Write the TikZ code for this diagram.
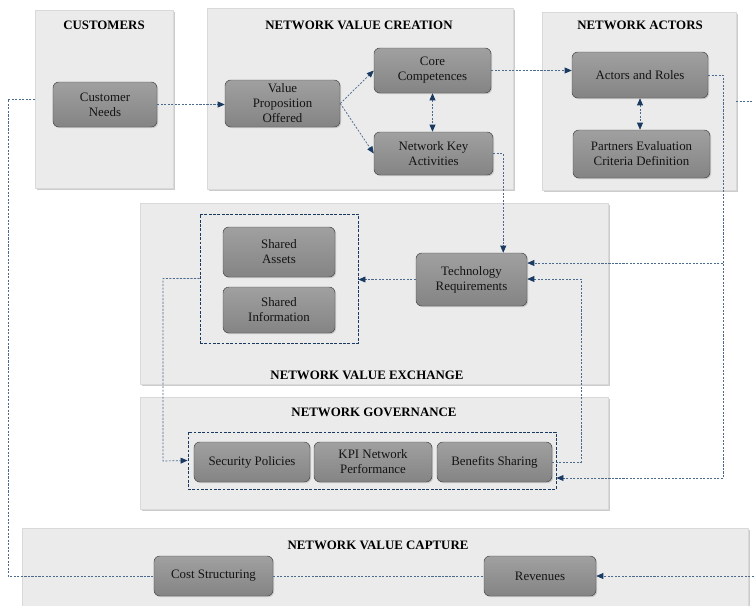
\documentclass[tikz,border=0pt]{standalone}
\usepackage{fontspec}
\setmainfont{Liberation Serif}
\usetikzlibrary{arrows.meta,fit,shadows}
\definecolor{panelgray}{HTML}{EBEBEB}
\definecolor{boxtop}{HTML}{A0A0A0}
\definecolor{boxbot}{HTML}{848484}
\definecolor{linkblue}{HTML}{4C6A8E}
\definecolor{tipblue}{HTML}{1B3A61}
\begin{document}
\begin{tikzpicture}[x=0.03cm, y=-0.03cm, line join=round,
  font=\fontsize{11}{12.8}\selectfont,
  panel/.style={fill=panelgray, draw=gray!30, inner sep=0pt,
    drop shadow={shadow xshift=1.6pt, shadow yshift=-1.6pt, opacity=0.4}},
  ptitle/.style={font=\fontsize{11}{12.8}\selectfont\bfseries},
  block/.style={rounded corners=5pt, top color=boxtop, bottom color=boxbot,
    draw=gray!55!black, inner sep=0pt, align=center, text=black!92,
    drop shadow={shadow xshift=1pt, shadow yshift=-1pt, opacity=0.3}},
  group/.style={draw=tipblue, dash pattern=on 2.4pt off 1.3pt, line width=0.7pt, inner sep=0pt},
  link/.style={draw=linkblue, line width=0.6pt, dash pattern=on 1.8pt off 1.2pt},
  >={Triangle[length=6pt,width=5pt,color=tipblue,fill=tipblue]}]
\useasboundingbox (0,0) rectangle (754,605);
\clip (0,0) rectangle (754,605);
% panels
\node[panel, fit={(35,10) (173,188)}] (custpanel) {};
\node[panel, fit={(207,8) (513,189)}] (crepanel) {};
\node[panel, fit={(542,12) (736,190)}] (actpanel) {};
\node[panel, fit={(140,203) (608,384)}] (exchpanel) {};
\node[panel, fit={(140,397) (608,509)}] (govpanel) {};
\node[panel, fit={(22,528) (748,615)}] (capturepanel) {};
\node[ptitle] (custtitle) at (104,25) {CUSTOMERS};
\node[ptitle] (cretitle) at (359,25) {NETWORK VALUE CREATION};
\node[ptitle] (acttitle) at (640,25) {NETWORK ACTORS};
\node[ptitle] (exchtitle) at (367,375) {NETWORK VALUE EXCHANGE};
\node[ptitle] (govtitle) at (374,412) {NETWORK GOVERNANCE};
\node[ptitle] (capturetitle) at (378,545) {NETWORK VALUE CAPTURE};
% groups
\node[group, fit={(200,214) (358,343)}] (sharebox) {};
\node[group, fit={(188,432) (556,489)}] (govbox) {};
% blocks
\node[block, minimum width=3.12cm, minimum height=1.35cm] (need) at (105,104.5) {Customer\\Needs};
\node[block, minimum width=3.45cm, minimum height=1.41cm] (prop) at (282.5,103.5) {Value\\Proposition\\Offered};
\node[block, minimum width=3.51cm, minimum height=1.35cm] (core) at (432.5,70.5) {Core\\Competences};
\node[block, minimum width=3.57cm, minimum height=1.29cm] (key) at (433.5,153.5) {Network Key\\Activities};
\node[block, minimum width=4.08cm, minimum height=1.38cm] (roles) at (640,75) {Actors and Roles};
\node[block, minimum width=4.11cm, minimum height=1.44cm] (crit) at (641.5,154) {Partners Evaluation\\Criteria Definition};
\node[block, minimum width=3.33cm, minimum height=1.59cm] (tech) at (471.5,279.5) {Technology\\Requirements};
\node[block, minimum width=3.36cm, minimum height=1.5cm] (assets) at (279,252) {Shared\\Assets};
\node[block, minimum width=3.36cm, minimum height=1.38cm] (info) at (279,310) {Shared\\Information};
\node[block, minimum width=3.48cm, minimum height=1.2cm] (sec) at (252,462) {Security Policies};
\node[block, minimum width=3.54cm, minimum height=1.2cm] (kpi) at (373,462) {KPI Network\\Performance};
\node[block, minimum width=3.45cm, minimum height=1.2cm] (bene) at (494.5,462) {Benefits Sharing};
\node[block, minimum width=3.57cm, minimum height=1.2cm] (cost) at (213.5,576) {Cost Structuring};
\node[block, minimum width=3.36cm, minimum height=1.2cm] (rev) at (540,576) {Revenues};
% turning points
\coordinate (rjoin) at (723,263);
\coordinate (rbottom) at (723,478);
\coordinate (bturn) at (581,279);
\coordinate (lcorner) at (163,461);
\coordinate (lft) at (8,99);
\coordinate (rgt) at (754,576);
\coordinate (rgttop) at (754,101);
% connectors
\draw[link,->] (need.east) -- (need.east -| prop.west);
\draw[link,->] (prop.east) -- (core.west);
\draw[link,->] (prop.east) -- (key.west);
\draw[link,<->] (core.south) -- (core.south |- key.north);
\draw[link,->] (core.east) -- (core.east -| roles.west);
\draw[link,<->] (roles.south) -- (roles.south |- crit.north);
\draw[link,->] (key.east) -| ([xshift=-0.72cm]tech.north east);
\draw[link] (roles.east) -| (rbottom);
\draw[link,->] (rjoin) -- (rjoin -| tech.east);
\draw[link,->] (rbottom) -- (rbottom -| govbox.east);
\draw[link,->] (bene.east) -| (bturn) -- (bturn -| tech.east);
\draw[link,->] (tech.west) -- (tech.west -| sharebox.east);
\draw[link,->] (sharebox.west) -| (lcorner) -- (govbox.west);
\draw[link] (custpanel.west) -- (lft) |- (cost.west);
\draw[link] (cost) -- (rev);
\draw[link,->] (rgt) -- (rev.east);
\draw[link] (actpanel.east) -- (rgttop);
\end{tikzpicture}
\end{document}
